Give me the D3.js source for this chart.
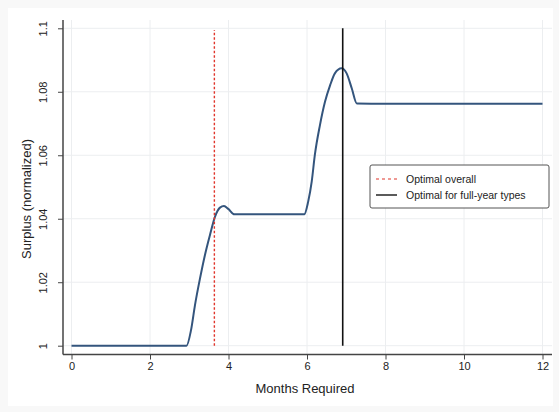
<!DOCTYPE html>
<html>
<head>
<meta charset="utf-8">
<script src="https://cdn.jsdelivr.net/npm/d3@7"></script>
<style>
  body { margin: 0; background: #f8f8f8; }
  text { font-family: "Liberation Sans", Arial, sans-serif; fill: #222; }
</style>
</head>
<body>
<div id="chart"></div>
<script>
// values
var months  = [0, 1, 2, 2.93, 3.045, 3.146, 3.274, 3.40, 3.528, 3.655, 3.783, 3.885, 3.995, 4.148,
               5, 5.93, 6.03, 6.12, 6.20, 6.33, 6.46, 6.59, 6.71, 6.88, 7.01, 7.14, 7.27, 8, 10, 12];
var surplus = [1, 1, 1, 1, 1.0049, 1.0128, 1.0212, 1.0286, 1.0349, 1.0406, 1.0435, 1.0440, 1.0431, 1.0414,
               1.0414, 1.0414, 1.0454, 1.0517, 1.0601, 1.0695, 1.0769, 1.0821, 1.0858, 1.0874, 1.0858, 1.0811, 1.0763, 1.0762, 1.0762, 1.0762];
var xTicks = [0, 2, 4, 6, 8, 10, 12];
var yTicks = [1, 1.02, 1.04, 1.06, 1.08, 1.1];
var optOverall = 3.64;
var optFullYear = 6.91;
var legendItems = ["Optimal overall", "Optimal for full-year types"];

var width = 559, height = 412;
var plot = { left: 63, right: 552, top: 20, bottom: 354.5 };

var x = d3.scaleLinear().domain([0, 12]).range([71.5, 542.5]);
var y = d3.scaleLinear().domain([1, 1.1]).range([345.7, 28.3]);

var svg = d3.select("#chart").append("svg")
    .attr("width", width)
    .attr("height", height);

// outer panel
svg.append("rect")
    .attr("x", 8).attr("y", 8)
    .attr("width", 545).attr("height", 398)
    .attr("fill", "#fff");

// grid
svg.append("g").selectAll("line")
  .data(xTicks)
  .enter().append("line")
    .attr("x1", function(d) { return x(d); })
    .attr("x2", function(d) { return x(d); })
    .attr("y1", plot.top).attr("y2", plot.bottom)
    .attr("stroke", "#eceef0").attr("stroke-width", 1);

svg.append("g").selectAll("line")
  .data(yTicks)
  .enter().append("line")
    .attr("y1", function(d) { return y(d); })
    .attr("y2", function(d) { return y(d); })
    .attr("x1", plot.left).attr("x2", plot.right)
    .attr("stroke", "#eceef0").attr("stroke-width", 1);

// axes
var xAxis = svg.append("g")
    .attr("transform", "translate(0," + plot.bottom + ")")
    .call(d3.axisBottom(x).tickValues(xTicks).tickSize(5).tickPadding(3).tickFormat(d3.format("d")));
xAxis.select(".domain").attr("d", "M" + plot.left + ",0H" + plot.right).attr("stroke", "#444").attr("stroke-width", 1.5);
xAxis.selectAll(".tick line").attr("stroke", "#444");
xAxis.selectAll(".tick text").style("font-size", "11px").attr("fill", "#222");

var yAxis = svg.append("g")
    .attr("transform", "translate(" + plot.left + ",0)")
    .call(d3.axisLeft(y).tickValues(yTicks).tickSize(5).tickFormat(function(d) { return d3.format("")(+d.toFixed(2)); }));
yAxis.select(".domain").attr("d", "M0," + plot.top + "V" + plot.bottom).attr("stroke", "#444").attr("stroke-width", 1.5);
yAxis.selectAll(".tick line").attr("stroke", "#444");
yAxis.selectAll(".tick text")
    .attr("x", 0).attr("dy", null)
    .attr("transform", "translate(-16,0) rotate(-90)")
    .attr("text-anchor", "middle")
    .style("font-size", "11px").attr("fill", "#222");

// axis titles
svg.append("text")
    .attr("x", 305).attr("y", 393)
    .attr("text-anchor", "middle")
    .style("font-size", "13px")
    .text("Months Required");

svg.append("text")
    .attr("transform", "translate(31,199) rotate(-90)")
    .attr("text-anchor", "middle")
    .style("font-size", "13px")
    .text("Surplus (normalized)");

// surplus curve
var line = d3.line()
    .x(function(d, i) { return x(months[i]); })
    .y(function(d) { return y(d); })
    .curve(d3.curveMonotoneX);

svg.append("path")
    .datum(surplus)
    .attr("d", line)
    .attr("fill", "none")
    .attr("stroke", "#34557d")
    .attr("stroke-width", 2);

// optimal lines
svg.append("line")
    .attr("x1", x(optOverall)).attr("x2", x(optOverall))
    .attr("y1", y(1)).attr("y2", y(1.0995))
    .attr("stroke", "#e0352b").attr("stroke-width", 1.4)
    .attr("stroke-dasharray", "2.5,2");

svg.append("line")
    .attr("x1", x(optFullYear)).attr("x2", x(optFullYear))
    .attr("y1", y(1)).attr("y2", y(1.1))
    .attr("stroke", "#111").attr("stroke-width", 1.6);

// legend
var legend = svg.append("g").attr("transform", "translate(370,165)");
legend.append("rect")
    .attr("width", 179).attr("height", 43)
    .attr("rx", 2)
    .attr("fill", "#fff").attr("stroke", "#555").attr("stroke-width", 1);

var legendRows = legend.selectAll("g.row")
  .data(legendItems)
  .enter().append("g")
    .attr("class", "row")
    .attr("transform", function(d, i) { return "translate(0," + (14 + i * 16) + ")"; });

legendRows.append("line")
    .attr("x1", 6).attr("x2", 27)
    .attr("stroke", function(d, i) { return i == 0 ? "#e0352b" : "#333"; })
    .attr("stroke-width", function(d, i) { return i == 0 ? 1.2 : 1.6; })
    .attr("stroke-dasharray", function(d, i) { return i == 0 ? "3,3" : null; });

legendRows.append("text")
    .attr("x", 36).attr("dy", "0.35em")
    .style("font-size", "10.5px")
    .text(function(d) { return d; });
</script>
</body>
</html>
